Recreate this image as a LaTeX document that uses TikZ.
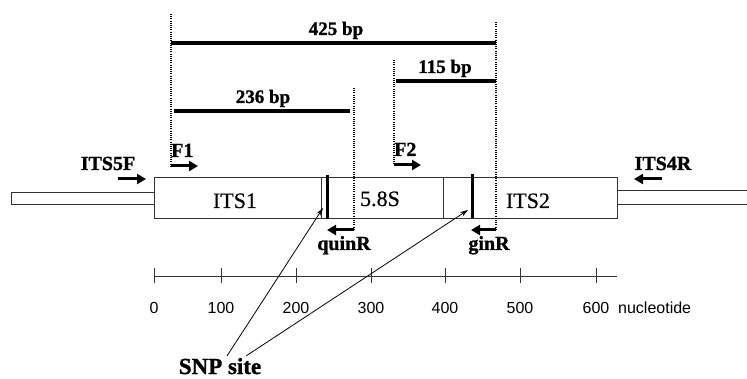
\documentclass[tikz,border=0pt]{standalone}
\usepackage{fontspec}
\setmainfont{Liberation Serif}[BoldFeatures={FakeBold=1.2}]
\newfontfamily\regheavy{Liberation Serif}[FakeBold=0.4]
\newfontfamily\arialf{Liberation Sans}
\usetikzlibrary{arrows.meta}
\begin{document}
\begin{tikzpicture}[x=1pt,y=-1pt,
  thinline/.style={line width=0.9pt, draw=black!80},
  bpbar/.style={line width=3.6pt},
  guide/.style={line width=1.2pt, dash pattern=on 1pt off 1.2pt},
  primer/.style={line width=3pt, -{Triangle[length=9pt,width=10pt]}},
  snpbar/.style={line width=3pt},
  snparrow/.style={line width=0.8pt, -{Stealth[length=8pt,width=5pt]}},
  blbl/.style={font=\bfseries\fontsize{20}{20}\selectfont, inner sep=0pt, anchor=base},
  bplbl/.style={font=\bfseries\fontsize{19}{19}\selectfont, inner sep=0pt, anchor=base},
  reglbl/.style={font=\regheavy\fontsize{22}{22}\selectfont, inner sep=0pt, anchor=base},
  numlbl/.style={font=\arialf\fontsize{16}{16}\selectfont, inner sep=0pt, anchor=base},
  tick/.style={thinline}
]
\useasboundingbox (0,0) rectangle (747,379);

% flanks
\draw[thinline] (154,192) -- (11,192) -- (11,204) -- (154,204);
\draw[thinline] (747,190) -- (617,190);
\draw[thinline] (747,204) -- (617,204);
% main box
\node[thinline, draw, rectangle, minimum width=463pt, minimum height=41pt, inner sep=0pt, anchor=north west] (box) at (154,177) {};
\draw[thinline] (321,177) -- (321,218);
\draw[thinline] (443,177) -- (443,218);
\draw[snpbar] (327.5,175) coordinate (snpA) -- (327.5,219);
\draw[snpbar] (472,174) coordinate (snpB) -- (472,218);

% region labels
\node[reglbl] (its1) at (235,208) {ITS1};
\node[reglbl] (s58) at (380,206) {5.8S};
\node[reglbl] (its2) at (528,208) {ITS2};

% dotted guides
\draw[guide] (171,14) coordinate (g1t) -- (171,166) coordinate (g1b);
\draw[guide] (354,88) coordinate (g2t) -- (354,230) coordinate (g2b);
\draw[guide] (394,60) coordinate (g3t) -- (394,165) coordinate (g3b);
\draw[guide] (496,22) coordinate (g4t) -- (496,230) coordinate (g4b);

% bp bars
\draw[bpbar] (171,43) coordinate (b425l) -- (496,43) coordinate (b425r);
\node[bplbl] (l425) at (336,35) {425 bp};
\draw[bpbar] (174,111) coordinate (b236l) -- (350,111) coordinate (b236r);
\node[bplbl] (l236) at (263,103) {236 bp};
\draw[bpbar] (396,81) coordinate (b115l) -- (496,81) coordinate (b115r);
\node[bplbl] (l115) at (445,73) {115 bp};

% primers
\node[blbl] (its5f) at (108,170) {ITS5F};
\coordinate (p5a) at (118,179); \coordinate (p5b) at (146,179);
\draw[primer] (p5a) -- (p5b);
\node[blbl, anchor=base west] (f1) at (171,157) {F1};
\coordinate (pf1a) at (171,166); \coordinate (pf1b) at (198,166);
\draw[primer] (pf1a) -- (pf1b);
\node[blbl, anchor=base west] (f2) at (394,156) {F2};
\coordinate (pf2a) at (394,165); \coordinate (pf2b) at (421,165);
\draw[primer] (pf2a) -- (pf2b);
\node[blbl] (its4r) at (663,170) {ITS4R};
\coordinate (p4a) at (662,179); \coordinate (p4b) at (634,179);
\draw[primer] (p4a) -- (p4b);
\node[blbl] (quinr) at (344,250) {quinR};
\draw[primer] (g2b) -- (327,230) coordinate (pqb);
\node[blbl] (ginr) at (489,250) {ginR};
\draw[primer] (g4b) -- (471,230) coordinate (pgb);

% scale
\draw[thinline] (154,276) coordinate (ax0) -- (617,276) coordinate (ax1);
\foreach \x/\n in {154/0,221/100,296/200,371/300,445/400,520/500,596/600}{
  \draw[tick] (\x,268) -- (\x,283);
  \node[numlbl] (n\n) at (\x,313) {\n};
}
\node[numlbl, anchor=base west] (nuc) at (618,313) {nucleotide};

% SNP
\node[font=\bfseries\fontsize{23}{23}\selectfont, inner sep=0pt, anchor=base] (snp) at (220,374) {SNP site};
\coordinate (snps1) at (227,356);
\coordinate (snps2) at (246,356);
\coordinate (snpt1) at (323,208);
\coordinate (snpt2) at (468,210);
\draw[snparrow] (snps1) -- (snpt1);
\draw[snparrow] (snps2) -- (snpt2);
\end{tikzpicture}
\end{document}
